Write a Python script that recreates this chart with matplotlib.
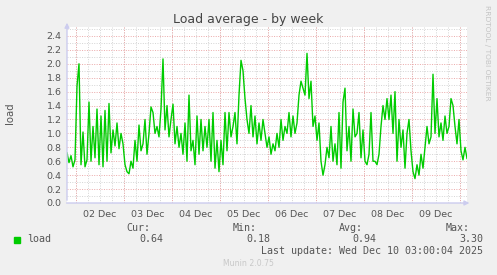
import numpy as np
import matplotlib.pyplot as plt

# munin "load" week graph, one value per hour
start_hour = 19.5   # hours after Dec 1 00:00
load = [
    0.72, 0.58, 0.68, 0.52, 0.62,
    1.68, 2.00, 0.55, 1.02, 0.52, 0.62, 1.45, 0.60, 1.10, 0.65,
    1.35, 0.55, 1.25, 0.52, 1.33, 0.60, 1.43, 0.72, 1.05,
    0.82, 1.15, 0.78, 1.00, 0.85,
    # Dec 3
    0.55, 0.45, 0.42, 0.60, 0.50, 0.90, 0.60, 1.12, 0.75, 0.85, 1.20, 0.70,
    1.00, 1.38, 1.30, 1.00, 1.10, 0.95, 1.35, 2.07, 1.05, 1.40, 0.95, 1.20,
    # Dec 4
    1.42, 0.85, 1.10, 0.80, 1.00, 0.70, 1.15, 0.60, 1.55, 0.75, 0.90, 0.55,
    1.25, 0.70, 1.20, 0.75, 1.10, 0.80, 1.20, 0.60, 1.30, 0.50, 0.90, 0.45,
    # Dec 5
    0.90, 0.55, 1.30, 0.75, 1.30, 0.95, 1.10, 1.30, 0.85, 1.55, 2.05, 1.90,
    1.50, 1.20, 1.00, 1.40, 0.95, 1.25, 0.85, 1.15, 0.90, 1.20, 1.00, 0.80,
    # Dec 6
    0.95, 0.70, 0.85, 0.75, 1.00, 0.80, 1.20, 0.90, 1.10, 1.00, 1.30, 0.95,
    1.25, 1.00, 1.15, 1.55, 1.75, 1.65, 1.55, 2.15, 1.50, 1.75, 1.10, 1.25,
    # Dec 7
    0.90, 1.15, 0.60, 0.40, 0.55, 0.80, 0.65, 1.10, 0.60, 0.85, 0.55, 1.30,
    0.50, 1.45, 1.65, 0.75, 1.10, 0.60, 1.35, 0.95, 1.00, 1.30, 0.65, 1.05,
    # Dec 8
    0.60, 0.55, 0.70, 1.30, 0.60, 0.60, 0.55, 0.70, 1.10, 1.40, 1.20, 1.50,
    1.20, 1.55, 1.00, 1.60, 0.60, 1.20, 0.80, 1.05, 0.50, 1.00, 1.20, 0.75,
    # Dec 9
    0.45, 0.35, 0.55, 0.40, 0.70, 0.50, 0.80, 1.10, 0.85, 0.95, 1.85, 1.00,
    1.50, 0.95, 1.15, 0.90, 1.25, 1.00, 1.10, 1.50, 1.40, 1.10, 0.85, 1.20,
    # Dec 10
    0.75, 0.62, 0.80, 0.64,
]
day_labels = ['02 Dec', '03 Dec', '04 Dec', '05 Dec', '06 Dec', '07 Dec', '08 Dec', '09 Dec']
y_ticks = [0.0, 0.2, 0.4, 0.6, 0.8, 1.0, 1.2, 1.4, 1.6, 1.8, 2.0, 2.2, 2.4]
legend_stats = [('Cur:', '0.64'), ('Min:', '0.18'), ('Avg:', '0.94'), ('Max:', '3.30')]

W, H = 497, 275
bg = '#F0F0F0'
txt = '#555555'
axis_col = '#CCCCEE'

fig = plt.figure(figsize=(W / 100, H / 100), dpi=100, facecolor=bg)
# plot area: x 67..467, y 27..203 (pixels)
ax = fig.add_axes([67 / W, (H - 203) / H, 400 / W, 176 / H])
ax.set_facecolor('white')

x0, x1 = start_hour, start_hour + 200
y_top = 176 / 69.6
ax.set_xlim(x0, x1)
ax.set_ylim(0, y_top)

# grid: grey every 6h / 0.1, red at midnight / 0.2
dots = (0, (1, 1.5))
minor_x = np.arange(24, x1, 6)
major_x = np.arange(24, x1, 24)
ax.vlines(minor_x, 0, y_top, colors='#D4D4D4', lw=0.7, linestyles=dots, zorder=1)
ax.vlines(major_x, 0, y_top, colors='#EBA8A8', lw=0.7, linestyles=dots, zorder=1)
minor_y = np.arange(0.1, y_top, 0.2)
ax.hlines(minor_y, x0, x1, colors='#D4D4D4', lw=0.7, linestyles=dots, zorder=1)
ax.hlines(y_ticks[1:], x0, x1, colors='#EBA8A8', lw=0.7, linestyles=dots, zorder=1)

t = start_hour + np.arange(len(load))
ax.plot(t, load, color='#00CC00', lw=1.0, zorder=3)

noons = np.arange(36, 36 + 24 * len(day_labels), 24)
ax.set_xticks(noons, day_labels)
ax.set_yticks(y_ticks, [f'{v:.1f}' for v in y_ticks])
ax.tick_params(length=0, labelsize=6.8, colors=txt, pad=4)
ax.tick_params(axis='x', pad=5)
for s in ax.spines.values():
    s.set_visible(False)

# axis lines with arrows
ax.annotate('', xy=(0, 1.04), xytext=(0, 0), xycoords='axes fraction',
            arrowprops=dict(arrowstyle='-|>', color=axis_col, lw=1, mutation_scale=7),
            annotation_clip=False)
ax.annotate('', xy=(1.013, 0), xytext=(-0.008, 0), xycoords='axes fraction',
            arrowprops=dict(arrowstyle='-|>', color=axis_col, lw=1, mutation_scale=7),
            annotation_clip=False)

def px(x, y):
    return x / W, 1 - y / H

fig.text(*px(248, 19), 'Load average - by week', ha='center', va='center',
         fontsize=9, color='#444444')
fig.text(*px(10, 113), 'load', rotation=90, ha='center', va='center',
         fontsize=7.3, color=txt)
fig.text(*px(487, 53), 'RRDTOOL / TOBI OETIKER', rotation=270, ha='center', va='center',
         fontsize=5.4, color='#C4C4C4')

mono = dict(family='DejaVu Sans Mono', fontsize=7.2, color=txt, va='center')
fig.patches.append(plt.Rectangle(px(14, 243), 6 / W, 6 / H, transform=fig.transFigure,
                                 color='#00CC00'))
fig.text(*px(27, 239.5), 'load', **mono)
stat_right = [150, 257, 363, 470]
for (name, val), xr in zip(legend_stats, stat_right):
    fig.text(*px(xr, 228), name, ha='right', **mono)
    fig.text(*px(xr + 13, 239.5), val, ha='right', **mono)
fig.text(*px(483, 251), 'Last update: Wed Dec 10 03:00:04 2025', ha='right', **mono)
fig.text(*px(248, 264), 'Munin 2.0.75', ha='center', va='center',
         fontsize=5.6, color='#C8C8C8')

fig.savefig('out.png', dpi=100, facecolor=bg)
